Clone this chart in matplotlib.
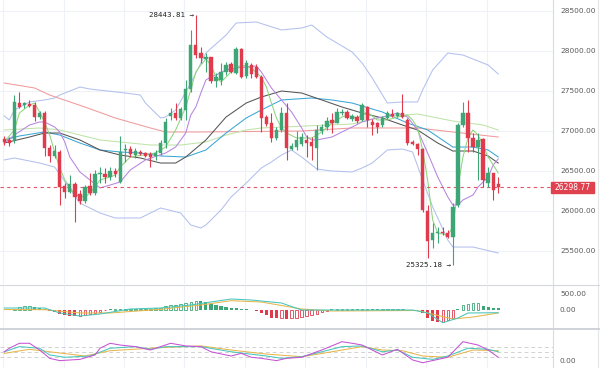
import matplotlib
matplotlib.use("Agg")
import matplotlib.pyplot as plt
from matplotlib.patches import Rectangle
from matplotlib.lines import Line2D
from matplotlib.transforms import blended_transform_factory
import numpy as np

# ---------------- candle data ----------------
opens = [26896, 26884, 26884, 27350, 27321, 27334, 27321, 27171, 27221, 26784,
         26684, 26738, 26309, 26238, 26334, 26209, 26121, 26309, 26221, 26459,
         26465, 26425, 26496, 26363, 26753, 26771, 26696, 26738, 26718, 26709,
         26684, 26721, 26843, 27184, 27221, 27155, 27259, 27518, 28071, 27971,
         27893, 27921, 27621, 27634, 27738, 27834, 27725, 28018, 27684, 27821,
         27796, 27668, 27168, 27100, 26905, 27009, 27221, 26771, 26796, 26834,
         26884, 26863, 26780, 26996, 27043, 27134, 27100, 27221, 27238, 27143,
         27175, 27134, 27300, 27113, 27096, 27071, 27159, 27209, 27184, 27221,
         27134, 26863, 26834, 26771, 26000, 25634, 25721, 25738, 25725, 25675,
         26071, 27071, 27221, 26905, 26800, 26896, 26343, 26471, 26334]
highs = [26934, 26921, 27446, 27488, 27363, 27384, 27363, 27246, 27246, 26821,
         26821, 26759, 26346, 26446, 26363, 26259, 26321, 26471, 26509, 26546,
         26534, 26546, 26534, 26934, 26834, 26809, 26784, 26759, 26738, 26738,
         26759, 26884, 27159, 27284, 27343, 27300, 27634, 28259, 28443.81, 28050,
         27971, 27925, 27718, 27843, 27863, 27863, 28043, 28030, 27884, 27843,
         27834, 27696, 27196, 27218, 27046, 27296, 27343, 26846, 26996, 26971,
         26946, 26925, 27071, 27084, 27171, 27218, 27280, 27268, 27259, 27209,
         27196, 27343, 27309, 27146, 27113, 27184, 27246, 27271, 27234, 27459,
         27159, 26884, 26850, 26784, 26071, 25846, 25800, 25800, 25759, 26093,
         27093, 27363, 27384, 26968, 26971, 26909, 26550, 26471, 26425]
lows = [26821, 26809, 26846, 27284, 27284, 27296, 27121, 27146, 26684, 26609,
        26659, 26071, 26159, 26221, 25863, 26084, 26096, 26196, 26196, 26346,
        26346, 26384, 26421, 26346, 26613, 26671, 26659, 26696, 26671, 26550,
        26634, 26696, 26784, 27134, 27134, 27134, 27134, 27484, 27909, 27843,
        27738, 27593, 27550, 27571, 27696, 27718, 27709, 27655, 27655, 27655,
        27659, 26988, 27059, 26863, 26884, 26988, 26634, 26759, 26759, 26809,
        26675, 26634, 26509, 26959, 27009, 26968, 27093, 27196, 27146, 27121,
        27096, 27121, 27046, 26946, 26968, 27046, 27146, 27171, 27171, 27159,
        26821, 26821, 26696, 25984, 25409, 25534, 25593, 25696, 25655, 25325.18,
        26050, 27050, 26738, 26738, 26384, 26300, 26300, 26134, 26221]
closes = [26859, 26846, 27363, 27300, 27346, 27313, 27171, 27225, 26790, 26684,
          26746, 26300, 26238, 26334, 26175, 26121, 26296, 26221, 26465, 26475,
          26421, 26500, 26455, 26738, 26765, 26709, 26750, 26709, 26684, 26675,
          26721, 26846, 27113, 27221, 27155, 27271, 27521, 28071, 27946, 27909,
          27925, 27621, 27675, 27738, 27821, 27730, 28018, 27675, 27850, 27709,
          27675, 27155, 27084, 26905, 27009, 27221, 26784, 26809, 26884, 26925,
          26850, 26809, 27009, 27050, 27125, 27093, 27238, 27234, 27155, 27184,
          27125, 27321, 27134, 27071, 27046, 27159, 27221, 27184, 27221, 27171,
          26846, 26834, 26771, 26009, 25625, 25721, 25738, 25721, 25675, 26050,
          27071, 27221, 26905, 26800, 26884, 26384, 26475, 26259, 26298.77]

last_price = 26298.77
high_label = "28443.81"
low_label = "25325.18"
price_ticks = [25500, 26000, 26500, 27000, 27500, 28000, 28500]

# ---------------- overlay lines (read at sample candles) ----------------
bb_up_idx = [0, 1, 2, 5, 8, 10, 11, 15, 17, 24, 27, 28, 31, 32, 34, 37, 40, 44, 46, 50,
             55, 59, 61, 64, 69, 71, 73, 76, 79, 82, 83, 85, 88, 91, 96, 98]
bb_up_val = [27184, 27134, 27259, 27359, 27384, 27409, 27446, 27546, 27521, 27471,
             27446, 27346, 27159, 27171, 27259, 27596, 27971, 28196, 28346, 28359,
             28259, 28284, 28321, 28171, 27984, 27846, 27659, 27346, 27359, 27359,
             27509, 27759, 27971, 27946, 27821, 27709]
bb_lo_idx = [0, 2, 7, 10, 15, 19, 22, 27, 31, 35, 37, 39, 40, 43, 45, 48, 51, 53, 55, 57,
             59, 62, 65, 69, 71, 73, 76, 79, 81, 83, 85, 88, 89, 93, 98]
bb_lo_val = [26634, 26659, 26596, 26546, 26096, 25971, 25909, 25909, 26034, 25971,
             25821, 25784, 25821, 26009, 26171, 26346, 26534, 26609, 26696, 26759,
             26671, 26521, 26496, 26484, 26534, 26596, 26759, 26771, 26734, 26384,
             26046, 25634, 25546, 25546, 25471]

ma_fast_idx = [0, 2, 3, 5, 6, 7, 8, 9, 10, 11, 12, 13, 14, 16, 17, 18, 19, 21, 22, 23,
               24, 25, 30, 32, 34, 36, 37, 38, 39, 40, 41, 42, 43, 44, 45, 47, 49, 51, 52, 53,
               54, 55, 56, 58, 61, 63, 65, 67, 68, 70, 72, 74, 76, 78, 80, 81, 82, 83, 84, 85,
               86, 88, 89, 90, 91, 92, 93, 94, 95, 96, 97, 98]
ma_fast_val = [26859, 27009, 27221, 27321, 27346, 27234, 27109, 26946, 26734, 26534,
               26384, 26296, 26196, 26171, 26221, 26296, 26384, 26421, 26446, 26546,
               26609, 26671, 26721, 26796, 27009, 27296, 27509, 27734, 27821, 27896,
               27821, 27671, 27609, 27671, 27734, 27821, 27784, 27671, 27546, 27346,
               27159, 27034, 26971, 26909, 26909, 26984, 27096, 27171, 27196, 27159,
               27234, 27134, 27134, 27171, 27196, 27134, 27034, 26759, 26384, 25884,
               25721, 25696, 25796, 26296, 26671, 26909, 27009, 26946, 26821, 26671,
               26571, 26471]

ma_purple_idx = [0, 2, 5, 7, 8, 10, 11, 12, 13, 15, 17, 19, 21, 23, 25, 28, 32, 34, 36, 37,
                 38, 39, 40, 41, 42, 44, 46, 48, 50, 51, 53, 55, 57, 59, 60, 61, 62, 65, 67, 69,
                 71, 73, 75, 78, 80, 82, 84, 86, 88, 89, 90, 91, 93, 94, 96, 97, 98]
ma_purple_val = [26846, 26946, 27071, 27109, 27109, 27046, 26984, 26859, 26671, 26484,
                 26384, 26284, 26321, 26359, 26509, 26634, 26721, 26796, 26971, 27196,
                 27296, 27471, 27634, 27671, 27696, 27759, 27784, 27796, 27809, 27734,
                 27534, 27384, 27234, 27034, 26921, 26884, 26884, 26921, 26984, 27046,
                 27109, 27146, 27171, 27221, 27171, 27009, 26721, 26421, 26171, 26071,
                 26071, 26134, 26196, 26296, 26421, 26571, 26646]

ma_gray_idx = [0, 5, 8, 11, 15, 19, 23, 27, 31, 34, 36, 40, 44, 48, 51, 55, 59, 63, 67, 71,
               75, 79, 82, 86, 89, 93, 96, 98]
ma_gray_val = [26846, 26921, 26971, 26971, 26884, 26759, 26696, 26659, 26596, 26596,
               26671, 26884, 27171, 27346, 27421, 27496, 27471, 27384, 27296, 27221,
               27159, 27071, 27009, 26846, 26746, 26746, 26684, 26596]

ma_teal_idx = [0, 3, 8, 11, 15, 19, 23, 27, 31, 36, 40, 44, 48, 51, 55, 61, 65, 69, 75, 80,
               84, 89, 93, 96, 98]
ma_teal_val = [26884, 26934, 26984, 26946, 26846, 26759, 26734, 26721, 26684, 26671,
               26759, 26971, 27159, 27259, 27384, 27409, 27384, 27346, 27234, 27096,
               27009, 26796, 26796, 26759, 26671]

ma_salmon_idx = [0, 6, 9, 16, 22, 29, 32, 39, 59, 69, 82, 89, 98]
ma_salmon_val = [27596, 27534, 27446, 27296, 27159, 27034, 26984, 26984, 26996, 27034,
                 27034, 26984, 26921]

ma_pale_idx = [0, 7, 11, 15, 19, 25, 29, 35, 40, 44, 48, 51, 69, 75, 82, 89, 95, 98]
ma_pale_val = [27009, 27034, 27009, 26946, 26884, 26846, 26821, 26821, 26859, 26946,
               27009, 27034, 27084, 27171, 27209, 27121, 27071, 27009]

# ---------------- MACD ----------------
macd_hist = [-20, -20, 30, 70, 100, 100, 90, 60, 10, -60,
             -80, -130, -170, -190, -210, -200, -170, -150, -120, -90,
             -30, 10, 20, 20, 25, 25, 25, 30, 30, 30,
             40, 50, 100, 130, 150, 170, 200, 250, 280, 260,
             230, 180, 140, 100, 80, 50, 40, 20, 10, -20,
             -60, -120, -180, -250, -280, -270, -300, -280, -250, -220,
             -190, -160, -130, -90, -50, 10, 20, 30, 30, 30,
             25, 30, 30, 20, 15, 15, 20, 20, 20, 20,
             -10, -20, -30, -120, -280, -360, -400, -380, -340, -280,
             20, 130, 170, 200, 210, 105, 85, 60, 40]
dif_idx = [0, 8, 11, 15, 19, 25, 31, 37, 45, 49, 55, 59, 65, 81, 84, 87, 90, 92, 98]
dif_val = [47, 47, -109, -203, -141, 16, 47, 141, 328, 297, 203, -16, -16, -16, -109,
           -413, -266, -109, -100]
dea_idx = [0, 8, 15, 21, 31, 39, 45, 51, 59, 65, 82, 89, 93, 98]
dea_val = [0, -6, -109, -109, 6, 141, 275, 234, 16, -47, -31, -297, -234, -109]

# ---------------- KDJ ----------------
k_idx = [0, 3, 7, 9, 12, 17, 21, 26, 29, 32, 39, 45, 52, 55, 59, 63, 67, 71, 75, 78,
         81, 85, 88, 92, 96, 98]
k_val = [51, 80, 71, 33, 20, 27, 71, 80, 65, 80, 80, 51, 27, 14, 23, 51, 80, 84, 51, 61,
         20, 8, 27, 71, 65, 51]
d_idx = [0, 5, 9, 16, 21, 29, 32, 39, 45, 52, 59, 65, 71, 75, 79, 83, 88, 93, 98]
d_val = [42, 65, 51, 27, 57, 71, 76, 84, 61, 38, 23, 51, 80, 61, 57, 27, 20, 61, 57]
j_idx = [0, 1, 3, 5, 7, 9, 11, 15, 18, 19, 21, 23, 26, 29, 33, 36, 39, 41, 45, 47,
         49, 51, 54, 56, 59, 63, 67, 69, 71, 75, 78, 81, 83, 88, 91, 94, 96, 98]
j_val = [51, 71, 99, 99, 61, 14, 1, 8, 33, 71, 99, 89, 80, 61, 99, 84, 80, 51, 27, 42,
         20, 14, 1, 14, 20, 61, 108, 99, 89, 33, 65, 5, -11, 20, 108, 89, 61, 20]

# ---------------- styling ----------------
GREEN = "#3ea676"
RED = "#df3b4d"
GRID = "#eef1f5"
TXT = "#5a5a5a"

W, H = 600, 368
fig = plt.figure(figsize=(6, 3.68), dpi=100)

def fx(x):
    return x / W

def fy(y):
    return 1 - y / H

RIGHT = 553
x0_px, step_px = 4.3, 5.04
xlim = (-x0_px / step_px, (RIGHT - x0_px) / step_px)

ax = fig.add_axes([0, fy(284), fx(RIGHT), 284 / H])
axm = fig.add_axes([0, fy(328), fx(RIGHT), 43 / H])
axk = fig.add_axes([0, 0, fx(RIGHT), 39 / H])

# price axis px mapping: y = 10.7 + (28500 - p)/12.5
p_top = 28500 + 10.7 * 12.5
p_bot = 28500 - (284 - 10.7) * 12.5
ax.set_ylim(p_bot, p_top)
axm.set_ylim((309.5 - 328) * 31.25, (309.5 - 285) * 31.25)
axk.set_ylim((360.8 - 368) / 0.177, (360.8 - 329) / 0.177)

for a in (ax, axm, axk):
    a.set_xlim(*xlim)
    a.set_xticks([])
    a.set_yticks([])
    for s in a.spines.values():
        s.set_visible(False)
    a.patch.set_alpha(0)
    for k in range(9):
        a.axvline(-0.25 + 12 * k, color=GRID, lw=0.8, zorder=0)

for p in price_ticks:
    ax.axhline(p, color=GRID, lw=0.8, zorder=0)

# Bollinger + MAs
lw = 0.75
ax.plot(bb_up_idx, bb_up_val, color="#b3c0ee", lw=lw, zorder=2)
ax.plot(bb_lo_idx, bb_lo_val, color="#b3c0ee", lw=lw, zorder=2)
ax.plot(ma_salmon_idx, ma_salmon_val, color="#f19a9a", lw=lw, zorder=2)
ax.plot(ma_pale_idx, ma_pale_val, color="#bfe3a8", lw=lw, zorder=2)
ax.plot(ma_teal_idx, ma_teal_val, color="#3aa6d6", lw=lw, zorder=2)
ax.plot(ma_gray_idx, ma_gray_val, color="#555555", lw=lw, zorder=2)
ax.plot(ma_purple_idx, ma_purple_val, color="#b685e0", lw=lw, zorder=2)
ax.plot(ma_fast_idx, ma_fast_val, color="#8fd67c", lw=lw, zorder=2)

# candles
idx = np.arange(len(closes))
o = np.array(opens, float)
c = np.array(closes, float)
hi = np.array(highs, float)
lo = np.array(lows, float)
up = c >= o
cols = np.where(up, GREEN, RED)
ax.vlines(idx, lo, hi, colors=cols, lw=0.8, zorder=3)
body_bot = np.minimum(o, c)
body_h = np.maximum(np.abs(c - o), 14)
ax.bar(idx, body_h, bottom=body_bot, width=0.66, color=cols, edgecolor=cols, lw=0.3, zorder=4)

# last price line
ax.axhline(last_price, color="#e0566a", lw=0.8, ls=(0, (3, 3)), zorder=2)

# high / low labels
ax.text(38 - 0.45, 28443.81, high_label + " \u2192", ha="right", va="center",
        fontsize=5.4, family="DejaVu Sans Mono", color="#222222", zorder=6)
ax.text(89 - 0.45, 25325.18, low_label + " \u2192", ha="right", va="center",
        fontsize=5.4, family="DejaVu Sans Mono", color="#222222", zorder=6)

# price axis labels
tr = blended_transform_factory(fig.transFigure, ax.transData)
for p in price_ticks:
    ax.text(fx(560), p, f"{p:.2f}", transform=tr, ha="left", va="center",
            fontsize=5.3, color=TXT, clip_on=False)

# last price box
fig.patches.append(Rectangle((fx(551), fy(193.3)), fx(43), 11.6 / H,
                             transform=fig.transFigure, color="#e0414f", zorder=5))
fig.text(fx(572.5), fy(187.5), f"{last_price:.2f}", ha="center", va="center",
         fontsize=5.5, color="white", zorder=6)

# MACD
hist = np.array(macd_hist, float)
prev = np.concatenate([[hist[0]], hist[:-1]])
for i, v in enumerate(hist):
    col = GREEN if v >= 0 else RED
    rising_mag = abs(v) >= abs(prev[i])
    if v >= 0:
        filled = not rising_mag
    else:
        filled = rising_mag
    h = v if abs(v) > 12 else (12 if v >= 0 else -12)
    if filled:
        axm.bar(i, h, width=0.62, color=col, lw=0, zorder=3)
    else:
        axm.bar(i, h, width=0.5, facecolor="white", edgecolor=col, lw=0.6, zorder=3)
axm.plot(dea_idx, dea_val, color="#e8b54c", lw=0.75, zorder=4)
axm.plot(dif_idx, dif_val, color="#47c6bb", lw=0.75, zorder=4)
trm = blended_transform_factory(fig.transFigure, axm.transData)
for v in (500, 0):
    axm.text(fx(560), v, f"{v:.2f}", transform=trm, ha="left", va="center",
             fontsize=5.3, color=TXT, clip_on=False)

# KDJ
for lvl in (20, 50, 80):
    axk.axhline(lvl, color="#d2d2d2", lw=0.7, ls=(0, (4, 3)), zorder=1)
axk.plot(d_idx, d_val, color="#e8b54c", lw=0.75, zorder=3)
axk.plot(k_idx, k_val, color="#47c6bb", lw=0.75, zorder=3)
axk.plot(j_idx, j_val, color="#c553d3", lw=0.75, zorder=3)
trk = blended_transform_factory(fig.transFigure, axk.transData)
axk.text(fx(560), 0, "0.00", transform=trk, ha="left", va="center",
         fontsize=5.3, color=TXT, clip_on=False)

# frame lines
fig.add_artist(Line2D([fx(RIGHT), fx(RIGHT)], [0, 1], transform=fig.transFigure,
                      color="#d8dce2", lw=0.8))
fig.add_artist(Line2D([fx(597.5), fx(597.5)], [0, 1], transform=fig.transFigure,
                      color="#e4e6ea", lw=0.8))
fig.add_artist(Line2D([0, 1], [fy(285), fy(285)], transform=fig.transFigure,
                      color="#d5d8dd", lw=0.8))
fig.add_artist(Line2D([0, 1], [fy(328.5), fy(328.5)], transform=fig.transFigure,
                      color="#cfd2d7", lw=1.4))

fig.savefig("out.png", dpi=100)
